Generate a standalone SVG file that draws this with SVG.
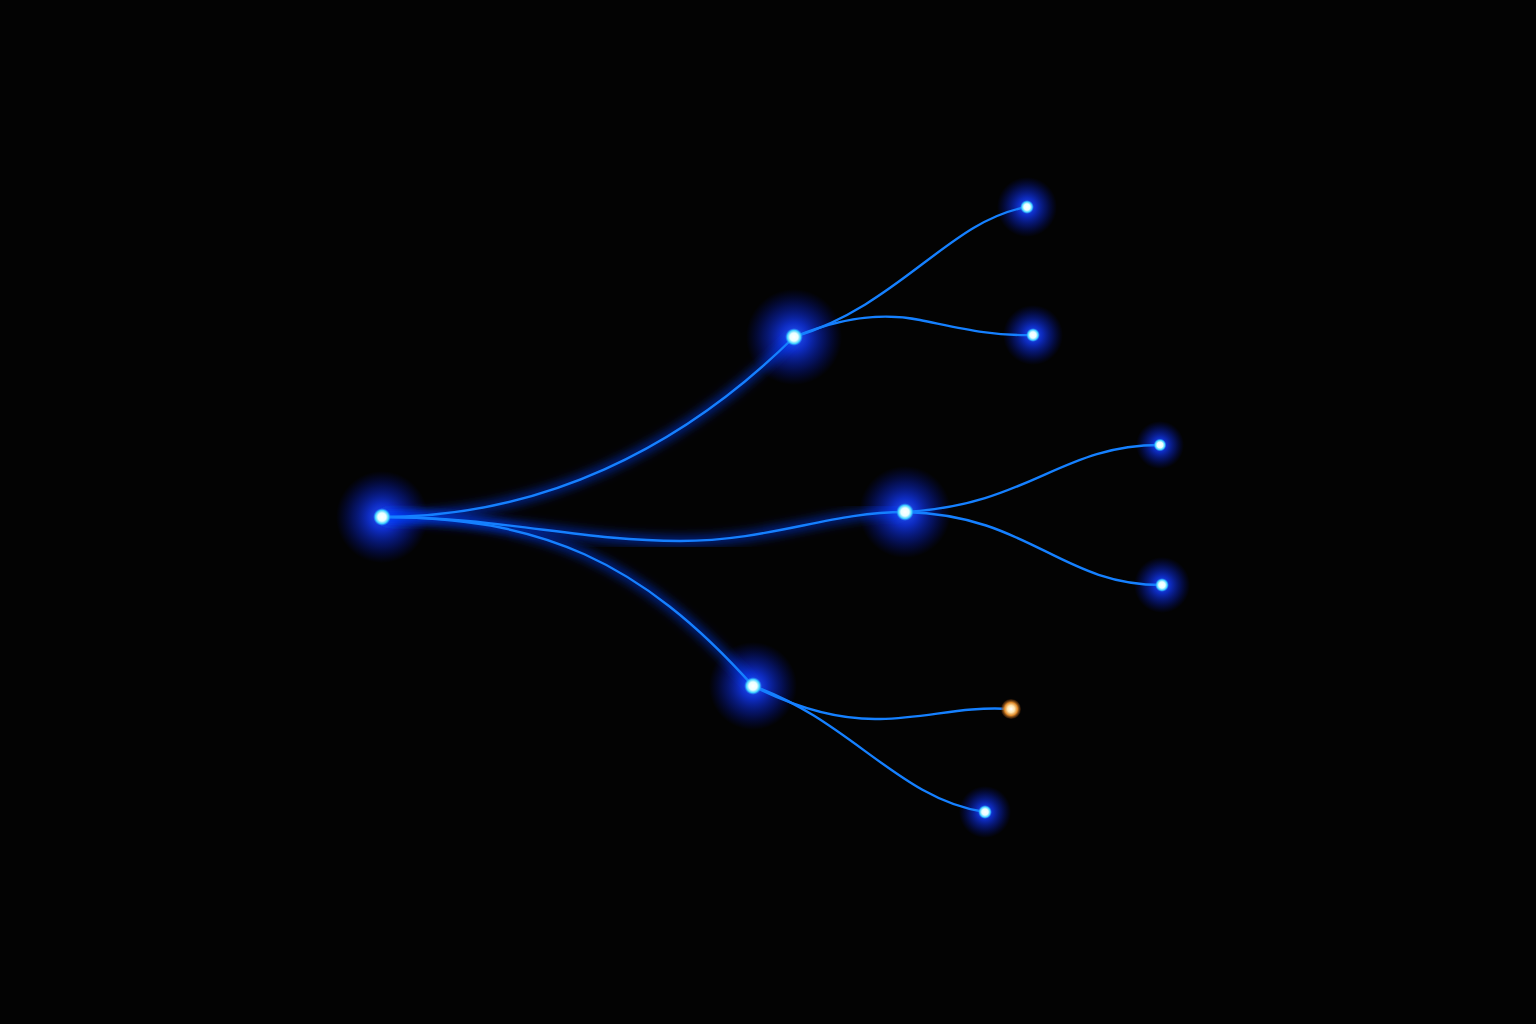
<svg xmlns="http://www.w3.org/2000/svg" width="1536" height="1024" viewBox="0 0 1536 1024">
<defs>
<radialGradient id="halo">
<stop offset="0" stop-color="#2a5cff" stop-opacity="1"/>
<stop offset="0.3" stop-color="#1036f0" stop-opacity="0.8"/>
<stop offset="0.65" stop-color="#0822c0" stop-opacity="0.45"/>
<stop offset="1" stop-color="#0010a0" stop-opacity="0"/>
</radialGradient>
<radialGradient id="core">
<stop offset="0" stop-color="#ffffff"/>
<stop offset="0.45" stop-color="#e8ffff"/>
<stop offset="0.75" stop-color="#3fd0ff"/>
<stop offset="1" stop-color="#1a7fff" stop-opacity="0"/>
</radialGradient>
<radialGradient id="ocore">
<stop offset="0" stop-color="#ffffff"/>
<stop offset="0.35" stop-color="#ffe6b0"/>
<stop offset="0.65" stop-color="#e08a2a"/>
<stop offset="1" stop-color="#6a3208" stop-opacity="0.3"/>
</radialGradient>
<filter id="glow" x="-20%" y="-20%" width="140%" height="140%">
<feGaussianBlur stdDeviation="5"/>
</filter>
</defs>
<style>
.wire{fill:none;stroke:#1580ff;stroke-width:2.4;stroke-linecap:round}
.wglow{fill:none;stroke:#0a3cff;stroke-width:10;stroke-opacity:0.5;filter:url(#glow)}
</style>
<rect width="1536" height="1024" fill="#030303"/>
<g id="halos">
<circle cx="382" cy="517" r="46" fill="url(#halo)"/>
<circle cx="794" cy="337" r="48" fill="url(#halo)"/>
<circle cx="905" cy="512" r="46" fill="url(#halo)"/>
<circle cx="753" cy="686" r="44" fill="url(#halo)"/>
<circle cx="1027" cy="207" r="30" fill="url(#halo)"/>
<circle cx="1033" cy="335" r="30" fill="url(#halo)"/>
<circle cx="1160" cy="445" r="24" fill="url(#halo)"/>
<circle cx="1162" cy="585" r="28" fill="url(#halo)"/>
<circle cx="985" cy="812" r="26" fill="url(#halo)"/>
</g>
<g id="connectors">
<g id="glows">
<path class="wglow" d="M382 517 C540 517 680 450 794 337"/>
<path class="wglow" d="M382 517 C500 517 580 541 680 541 C770 541 830 512 905 512"/>
<path class="wglow" d="M382 517 C540 517 640 560 753 686"/>
</g>
<path class="wire" d="M382 517 C540 517 680 450 794 337"/>
<path class="wire" d="M382 517 C500 517 580 541 680 541 C770 541 830 512 905 512"/>
<path class="wire" d="M382 517 C540 517 640 560 753 686"/>
<path class="wire" d="M794 337 C900 305 950 220 1027 207"/>
<path class="wire" d="M794 337 C840 318 880 312 920 320 C960 328 990 336 1033 335"/>
<path class="wire" d="M905 512 C1030 505 1060 445 1160 445"/>
<path class="wire" d="M905 512 C1030 515 1060 585 1162 585"/>
<path class="wire" d="M753 686 C800 710 840 720 880 719 C930 718 960 706 1011 709"/>
<path class="wire" d="M753 686 C850 720 900 800 985 812"/>
</g>
<g id="root"><circle cx="382" cy="517" r="9" fill="url(#core)"/></g>
<g id="n1"><circle cx="794" cy="337" r="9" fill="url(#core)"/></g>
<g id="n2"><circle cx="905" cy="512" r="9" fill="url(#core)"/></g>
<g id="n3"><circle cx="753" cy="686" r="9" fill="url(#core)"/></g>
<g id="l1"><circle cx="1027" cy="207" r="7" fill="url(#core)"/></g>
<g id="l2"><circle cx="1033" cy="335" r="7" fill="url(#core)"/></g>
<g id="l3"><circle cx="1160" cy="445" r="6.5" fill="url(#core)"/></g>
<g id="l4"><circle cx="1162" cy="585" r="7" fill="url(#core)"/></g>
<g id="l5"><circle cx="1011" cy="709" r="10" fill="url(#ocore)"/></g>
<g id="l6"><circle cx="985" cy="812" r="7" fill="url(#core)"/></g>
</svg>
